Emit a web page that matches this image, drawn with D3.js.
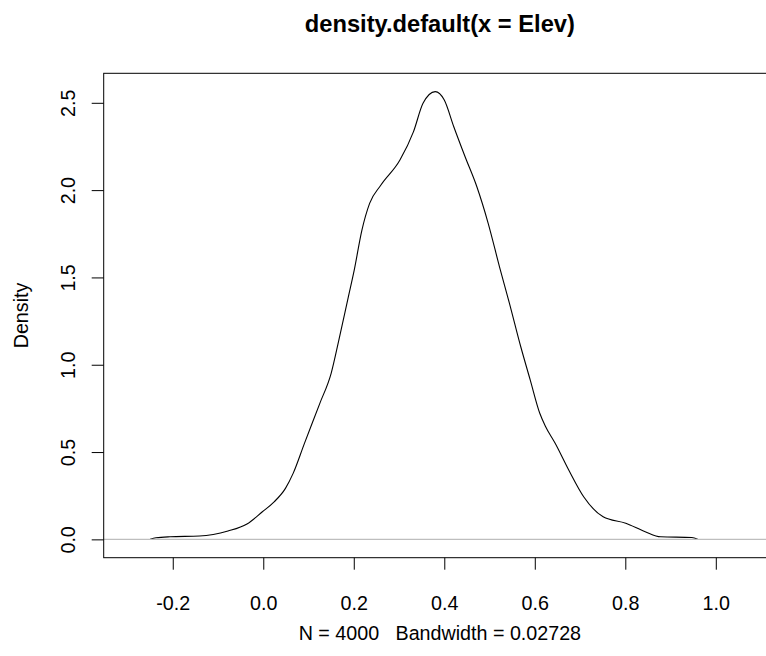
<!DOCTYPE html>
<html>
<head>
<meta charset="utf-8">
<script src="https://cdn.jsdelivr.net/npm/d3@7"></script>
<style>
  body { margin: 0; background: #fff; }
  svg text { font-family: "Liberation Sans", Arial, sans-serif; fill: #000; }
</style>
</head>
<body>
<div id="chart"></div>
<script>
// density estimate of Elev
var densX = [-0.25, -0.237, -0.206, -0.141, -0.078, -0.036, -0.002, 0.024, 0.049, 0.066,
  0.091, 0.125, 0.150, 0.167, 0.188, 0.201, 0.218, 0.235, 0.260, 0.302, 0.332, 0.353, 0.380,
  0.400, 0.421, 0.446, 0.472, 0.497, 0.522, 0.544, 0.569, 0.590, 0.611, 0.624, 0.645, 0.675,
  0.708, 0.751, 0.801, 0.844, 0.878, 0.947, 0.96];
var densY = [0, 0.009, 0.015, 0.019, 0.048, 0.088, 0.158, 0.215, 0.292, 0.378,
  0.55, 0.779, 0.951, 1.141, 1.389, 1.542, 1.771, 1.924, 2.029, 2.172, 2.335, 2.497, 2.564,
  2.516, 2.363, 2.191, 2.019, 1.81, 1.561, 1.352, 1.103, 0.912, 0.722, 0.645, 0.55, 0.397,
  0.244, 0.129, 0.092, 0.044, 0.015, 0.011, 0];

var xTicks = [-0.2, 0.0, 0.2, 0.4, 0.6, 0.8, 1.0];
var yTicks = [0.0, 0.5, 1.0, 1.5, 2.0, 2.5];

var mainTitle = "density.default(x = Elev)";
var xLabel = "N = 4000   Bandwidth = 0.02728";
var yLabel = "Density";

var W = 766, H = 656;
var box = { left: 103.7, right: 776, top: 73.3, bottom: 557.7 };

var svg = d3.select("#chart").append("svg")
  .attr("width", W)
  .attr("height", H);

svg.append("rect").attr("width", W).attr("height", H).attr("fill", "#fff");

var x = d3.scaleLinear().domain([-0.3526, 1.133]).range([box.left, box.right]);
var y = d3.scaleLinear().domain([-0.105, 2.669]).range([box.bottom, box.top]);

var data = densX.map(function (d, i) {
  return { x: d, y: densY[i] };
});

var line = d3.line()
  .x(function (d) { return x(d.x); })
  .y(function (d) { return y(d.y); })
  .curve(d3.curveMonotoneX);

svg.append("path")
  .datum(data)
  .attr("d", line)
  .attr("fill", "none")
  .attr("stroke", "#000")
  .attr("stroke-width", 1.1);

// zero line drawn on top, as R does
svg.append("line")
  .attr("x1", box.left).attr("x2", box.right)
  .attr("y1", y(0)).attr("y2", y(0))
  .attr("stroke", "#bebebe")
  .attr("stroke-width", 1.4);

// bottom axis
var xAxis = svg.append("g")
  .attr("transform", "translate(0," + box.bottom + ")")
  .call(d3.axisBottom(x).tickValues(xTicks).tickSize(12).tickSizeOuter(0)
    .tickFormat(d3.format(".1f")));
xAxis.select(".domain").remove();
xAxis.selectAll("line").attr("stroke", "#000");
xAxis.selectAll("text")
  .attr("y", 0).attr("dy", 0)
  .attr("transform", "translate(0,52)")
  .style("font-size", "19.7px")
  .text(function (d) { return d3.format(".1f")(d).replace("−", "-"); });

// left axis, labels rotated like R
var yAxis = svg.append("g")
  .attr("transform", "translate(" + box.left + ",0)")
  .call(d3.axisLeft(y).tickValues(yTicks).tickSize(12).tickSizeOuter(0)
    .tickFormat(d3.format(".1f")));
yAxis.select(".domain").remove();
yAxis.selectAll("line").attr("stroke", "#000");
yAxis.selectAll("text")
  .attr("x", 0).attr("dy", 0)
  .attr("transform", "translate(-28.7,0) rotate(-90)")
  .attr("text-anchor", "middle")
  .style("font-size", "19.7px");

// plot box
svg.append("rect")
  .attr("x", box.left).attr("y", box.top)
  .attr("width", box.right - box.left).attr("height", box.bottom - box.top)
  .attr("fill", "none")
  .attr("stroke", "#000")
  .attr("stroke-width", 1);

svg.append("text")
  .attr("x", (box.left + box.right) / 2).attr("y", 32)
  .attr("text-anchor", "middle")
  .style("font-size", "23.7px")
  .style("font-weight", "bold")
  .text(mainTitle);

svg.append("text")
  .attr("x", (box.left + box.right) / 2).attr("y", 640)
  .attr("text-anchor", "middle")
  .style("font-size", "19.7px")
  .style("white-space", "pre")
  .text(xLabel);

svg.append("text")
  .attr("transform", "translate(28," + (box.top + box.bottom) / 2 + ") rotate(-90)")
  .attr("text-anchor", "middle")
  .style("font-size", "19.7px")
  .text(yLabel);
</script>
</body>
</html>
